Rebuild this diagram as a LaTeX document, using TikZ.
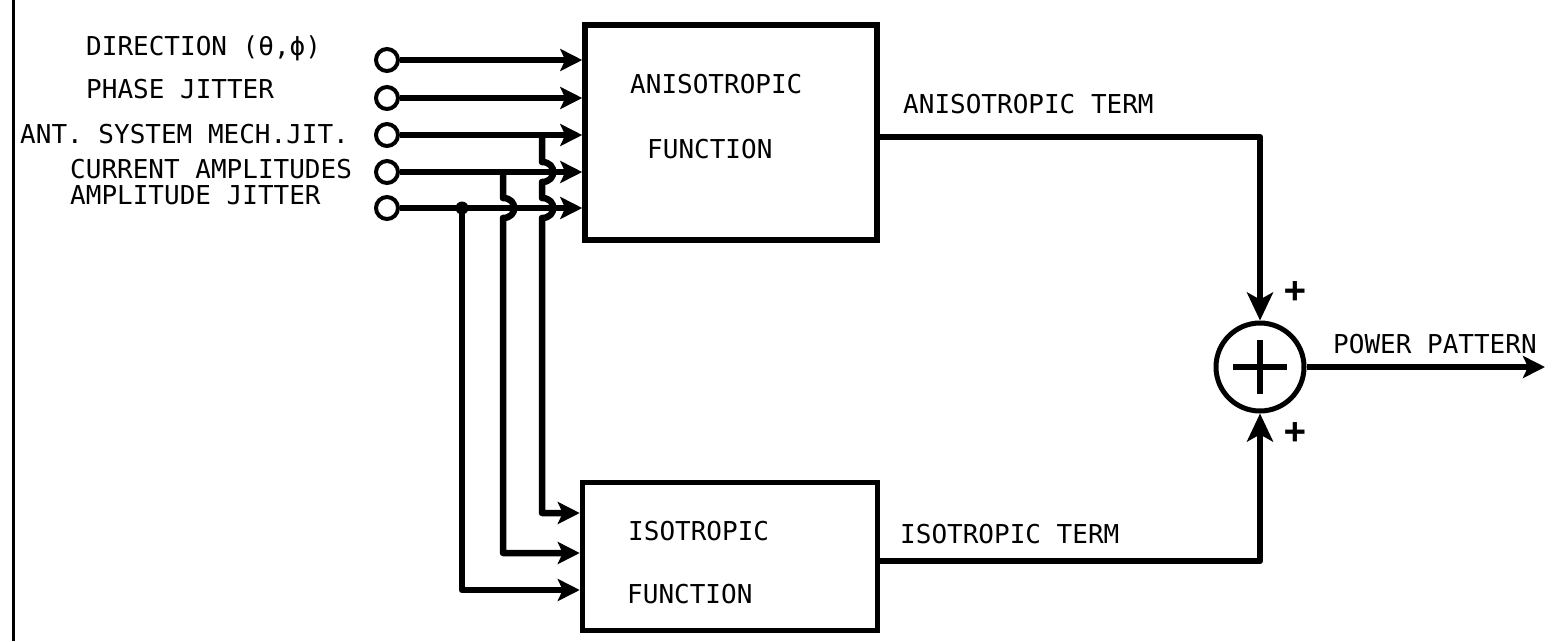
\documentclass[tikz,border=0pt]{standalone}
\usepackage{fontspec}
\newfontfamily\typefont{DejaVu Sans Mono}
\usetikzlibrary{arrows.meta}

\begin{document}
\begin{tikzpicture}[
    x=1pt, y=-1pt,
    block/.style={draw, line width=5.5pt, inner sep=0pt},
    port/.style={draw, circle, line width=4pt, minimum size=22pt, inner sep=0pt},
    sumnode/.style={draw, circle, line width=5pt, minimum size=88pt, inner sep=0pt},
    sig/.style={line width=6.5pt, line join=round},
    feed/.style={sig, -{Stealth[length=22pt,width=22pt,inset=5pt]}},
    sumfeed/.style={sig, -{Stealth[length=28pt,width=26pt,inset=7pt]}},
    txt/.style={font=\typefont\fontsize{26}{30}\selectfont, inner sep=0pt, anchor=base west},
    sgn/.style={font=\typefont\bfseries\fontsize{36}{36}\selectfont, inner sep=0pt}
]
\useasboundingbox (0,0) rectangle (1553,641);

\draw[line width=3pt] (13,0) -- (13,641);

\node[block, minimum width=292pt, minimum height=215pt] (aniso) at (731,132.5) {};
\node[block, minimum width=295pt, minimum height=148pt] (iso)   at (730,556.5) {};
\node[sumnode] (sum) at (1260,367) {};

\node[txt] (tan) at (630,93)  {ANISOTROPIC};
\node[txt] (tfa) at (647,158) {FUNCTION};
\node[txt] (tis) at (628,540) {ISOTROPIC};
\node[txt] (tfi) at (627,603) {FUNCTION};

\node[txt] (ldir) at (86,55)  {DIRECTION (θ,ϕ)};
\node[txt] (lpha) at (86,98)  {PHASE JITTER};
\node[txt] (lant) at (20,143) {ANT. SYSTEM MECH.JIT.};
\node[txt] (lcur) at (70,178) {CURRENT AMPLITUDES};
\node[txt] (lamp) at (70,204) {AMPLITUDE JITTER};

\foreach \k/\y in {1/60,2/98,3/135,4/172,5/208}
    \node[port] (in\k) at (387,\y) {};
\foreach \k in {1,...,5}
    \draw[feed] (in\k) -- (in\k -| aniso.west);

% taps down to the isotropic block, hopping over the lines they cross
\coordinate (tap3) at (542,135);
\coordinate (tap4) at (503,172);
\coordinate (tap5) at (462,208);
\coordinate (b1) at (542,513);
\coordinate (b2) at (503,553);
\coordinate (b3) at (462,590);

\draw[feed] (tap3) -- (542,162) .. controls (557,162) and (557,182) .. (542,182)
    -- (542,198) .. controls (557,198) and (557,218) .. (542,218)
    -- (b1) -- (b1 -| iso.west);
\draw[feed] (tap4) -- (503,198) .. controls (518,198) and (518,218) .. (503,218)
    -- (b2) -- (b2 -| iso.west);
\draw[feed] (tap5) -- (b3) -- (b3 -| iso.west);
\fill (tap5) circle (6.5);

\draw[sumfeed] ([yshift=-4.5pt]aniso.east) -| (sum.north);
\draw[sumfeed] ([yshift=-4.5pt]iso.east) -| (sum.south);
\coordinate (out) at (1545,367);
\draw[feed] (sum.east) -- (out);

\draw[sig] (sum.center) ++(-27,0) -- ++(54,0);
\draw[sig] (sum.center) ++(0,-27) -- ++(0,54);

\node[txt] (laterm) at (903,113) {ANISOTROPIC TERM};
\node[txt] (literm) at (900,543) {ISOTROPIC TERM};
\node[txt] (lpow) at (1333,353) {POWER PATTERN};
\node[sgn] (plus1) at (1295,292) {+};
\node[sgn] (plus2) at (1295,433) {+};

\end{tikzpicture}
\end{document}
